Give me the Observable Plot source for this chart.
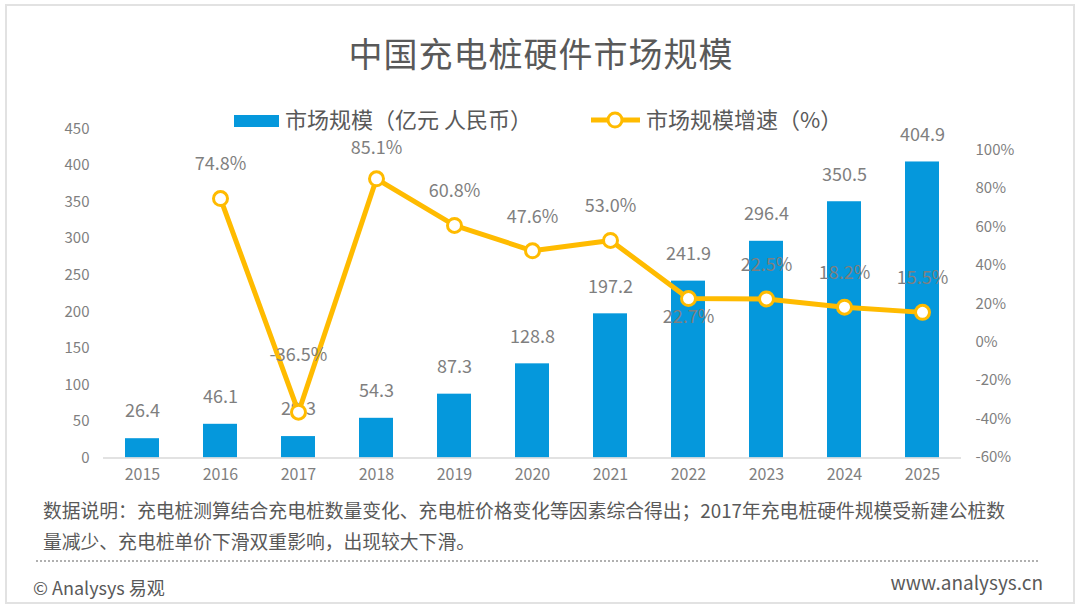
<!DOCTYPE html>
<html>
<head>
<meta charset="utf-8">
<script src="https://cdn.jsdelivr.net/npm/d3@7"></script>
<script src="https://cdn.jsdelivr.net/npm/@observablehq/plot@0.6"></script>
<style>
  body { margin:0; width:1080px; height:612px; position:relative; background:#fff; overflow:hidden;
         font-family:"Noto Sans CJK SC","Noto Sans",sans-serif; }
  .abs { position:absolute; white-space:nowrap; }
</style>
</head>
<body>
<div class="abs" style="left:5px;top:4px;width:1070px;height:600px;border:2px solid #e2e2e2;box-sizing:border-box;"></div>
<div class="abs" id="title" style="left:0;top:33px;width:1082px;text-align:center;font-size:34px;line-height:40px;color:#595959;letter-spacing:1px;">中国充电桩硬件市场规模</div>

<div class="abs" style="left:234px;top:115px;width:45px;height:12px;background:#0598dc;"></div>
<div class="abs" id="leg1" style="left:285px;top:107px;font-size:22px;line-height:22px;color:#595959;">市场规模（亿元 人民币）</div>
<svg class="abs" style="left:588px;top:109px;" width="56" height="22">
  <line x1="3" y1="11" x2="52" y2="11" stroke="#ffbb00" stroke-width="5"/>
  <circle cx="27" cy="11" r="7" fill="#fff" stroke="#ffbb00" stroke-width="3"/>
</svg>
<div class="abs" id="leg2" style="left:646px;top:107px;font-size:22px;line-height:22px;color:#595959;">市场规模增速（%）</div>

<div class="abs" id="chart" style="left:0;top:80px;"></div>

<div class="abs" id="note" style="left:43px;top:494px;font-size:18.8px;line-height:31px;color:#595959;">数据说明：充电桩测算结合充电桩数量变化、充电桩价格变化等因素综合得出；2017年充电桩硬件规模受新建公桩数<br>量减少、充电桩单价下滑双重影响，出现较大下滑。</div>
<div class="abs" style="left:36px;top:560px;width:1002px;height:0;border-top:2px dotted #b0b0b0;"></div>
<div class="abs" style="left:33px;top:574px;font-size:18px;line-height:26px;color:#595959;">© Analysys 易观</div>
<div class="abs" style="right:37px;top:568px;font-size:19px;line-height:28px;color:#595959;">www.analysys.cn</div>

<script>
const years = ["2015","2016","2017","2018","2019","2020","2021","2022","2023","2024","2025"];
const marketSize = [26.4, 46.1, 29.3, 54.3, 87.3, 128.8, 197.2, 241.9, 296.4, 350.5, 404.9];
const growthRate = [null, 74.8, -36.5, 85.1, 60.8, 47.6, 53.0, 22.7, 22.5, 18.2, 15.5];
const leftTicks = [0, 50, 100, 150, 200, 250, 300, 350, 400, 450];
const rightTicks = [-60, -40, -20, 0, 20, 40, 60, 80, 100];

// secondary axis (-60%..100%) mapped onto primary units
const toU = p => (p + 60) * (420 / 160) + 1;
const fromU = u => Math.round((u - 1) * 160 / 420 - 60);

const bars = years.map((y, i) => ({year: y, value: marketSize[i]}));
const growth = years.map((y, i) => ({year: y, g: growthRate[i]})).filter(d => d.g !== null);

const gold = "#ffbb00";
const labelColor = "#7f7f7f";
const special = ["2017", "2018", "2022"];

const chart = Plot.plot({
  width: 1080,
  height: 420,
  marginTop: 48.5,
  marginBottom: 42.5,
  marginLeft: 103,
  marginRight: 119,
  style: {fontFamily: '"Noto Sans CJK SC","Noto Sans",sans-serif', color: "#7f7f7f", background: "transparent"},
  x: {domain: years, paddingInner: 0.56, paddingOuter: 0.28},
  y: {domain: [0, 450]},
  marks: [
    Plot.axisY({ticks: leftTicks, tickSize: 0, tickPadding: 14, fontSize: 15, label: null}),
    Plot.axisY({anchor: "right", ticks: rightTicks.map(toU), tickFormat: u => fromU(u) + "%", tickSize: 0, tickPadding: 14, fontSize: 15, label: null}),
    Plot.axisX({tickSize: 0, tickPadding: 11, fontSize: 16, label: null}),
    Plot.barY(bars, {x: "year", y: "value", fill: "#0598dc"}),
    Plot.ruleY([0], {stroke: "#d9d9d9", strokeWidth: 1.5}),
    Plot.text(bars, {x: "year", y: "value", text: d => d.value.toFixed(1), dy: -27, fontSize: 18, fill: labelColor}),
    Plot.line(growth, {x: "year", y: d => toU(d.g), stroke: gold, strokeWidth: 5}),
    Plot.dot(growth, {x: "year", y: d => toU(d.g), r: 7, fill: "#fff", stroke: gold, strokeWidth: 3}),
    Plot.text(growth.filter(d => !special.includes(d.year)),
      {x: "year", y: d => toU(d.g), text: d => d.g.toFixed(1) + "%", dy: -34, fontSize: 18, fill: labelColor}),
    Plot.text(growth.filter(d => d.year === "2018"),
      {x: "year", y: d => toU(d.g), text: d => d.g.toFixed(1) + "%", dy: -31, fontSize: 18, fill: labelColor}),
    Plot.text(growth.filter(d => d.year === "2017"),
      {x: "year", y: d => toU(d.g), text: d => d.g.toFixed(1) + "%", dy: -57, fontSize: 18, fill: labelColor}),
    Plot.text(growth.filter(d => d.year === "2022"),
      {x: "year", y: d => toU(d.g), text: d => d.g.toFixed(1) + "%", dy: 19, fontSize: 18, fill: labelColor})
  ]
});
document.getElementById("chart").appendChild(chart);
</script>
</body>
</html>
